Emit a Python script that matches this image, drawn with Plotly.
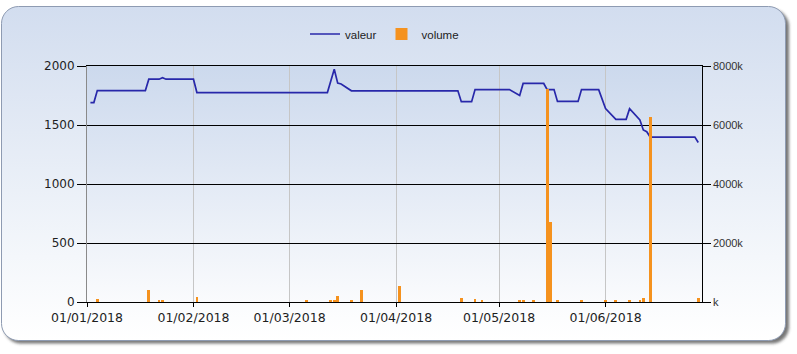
import base64
import plotly.graph_objects as go

# ---- data ----
line_dates = ["2018-01-02", "2018-01-03", "2018-01-04", "2018-01-18", "2018-01-19",
              "2018-01-22", "2018-01-23", "2018-01-24", "2018-02-01", "2018-02-02",
              "2018-03-12", "2018-03-14", "2018-03-15", "2018-03-16", "2018-03-19",
              "2018-04-19", "2018-04-20", "2018-04-23", "2018-04-24", "2018-05-04",
              "2018-05-07", "2018-05-08", "2018-05-14", "2018-05-15", "2018-05-17",
              "2018-05-18", "2018-05-24", "2018-05-25", "2018-05-30", "2018-06-01",
              "2018-06-04", "2018-06-07", "2018-06-08", "2018-06-11", "2018-06-12",
              "2018-06-13", "2018-06-14", "2018-06-27", "2018-06-28"]
line_values = [1690, 1690, 1792, 1792, 1888,
               1888, 1901, 1888, 1888, 1775,
               1775, 1972, 1855, 1848, 1790,
               1790, 1698, 1698, 1800, 1800,
               1750, 1852, 1852, 1800, 1800,
               1700, 1700, 1800, 1800, 1640,
               1548, 1548, 1638, 1542, 1458,
               1443, 1398, 1398, 1352]

bar_dates = ["2018-01-04", "2018-01-19", "2018-01-22", "2018-01-23", "2018-02-02",
             "2018-03-06", "2018-03-13", "2018-03-14", "2018-03-15", "2018-03-19",
             "2018-03-22", "2018-04-02", "2018-04-20", "2018-04-24", "2018-04-26",
             "2018-05-07", "2018-05-08", "2018-05-11", "2018-05-15", "2018-05-16",
             "2018-05-18", "2018-05-25", "2018-06-01", "2018-06-04", "2018-06-08",
             "2018-06-11", "2018-06-12", "2018-06-14", "2018-06-28"]
bar_volumes_k = [90, 420, 80, 80, 160,
                 70, 80, 80, 190, 80,
                 420, 530, 150, 90, 80,
                 80, 80, 70, 7210, 2720,
                 70, 60, 60, 80, 80,
                 80, 140, 6280, 150]

month_ticks = ["2018-01-01", "2018-02-01", "2018-03-01", "2018-04-01", "2018-05-01", "2018-06-01"]
left_ticks = [0, 500, 1000, 1500, 2000]
right_ticks = [0, 2000, 4000, 6000, 8000]
right_tick_text = ["k", "2000k", "4000k", "6000k", "8000k"]

W, H = 797, 354
PL, PR, PT, PB = 87, 701.7, 66, 302

# ---- background panel (rounded, gradient, shadow) as an svg image ----
svg = f'''<svg xmlns="http://www.w3.org/2000/svg" width="{W}" height="{H}" viewBox="0 0 {W} {H}">
<defs>
<linearGradient id="pg" x1="0" y1="0" x2="0" y2="1">
<stop offset="0" stop-color="#d2ddef"/><stop offset="0.75" stop-color="#f4f7fb"/><stop offset="1" stop-color="#ffffff"/>
</linearGradient>
<linearGradient id="ag" x1="0" y1="0" x2="0" y2="1">
<stop offset="0" stop-color="#ccd9ed"/><stop offset="1" stop-color="#fafbfd"/>
</linearGradient>
<filter id="sh" x="-5%" y="-5%" width="110%" height="120%"><feGaussianBlur stdDeviation="1.8"/></filter>
</defs>
<rect width="{W}" height="{H}" fill="#ffffff"/>
<rect x="4" y="9.5" width="785" height="334" rx="17" fill="#4a4a4a" opacity="0.75" filter="url(#sh)"/>
<rect x="1.5" y="6.5" width="784" height="334" rx="17" fill="url(#pg)" stroke="#8e9bb2" stroke-width="1"/>
<rect x="{PL}" y="{PT}" width="{PR-PL}" height="{PB-PT}" fill="url(#ag)"/>
</svg>'''
src = "data:image/svg+xml;base64," + base64.b64encode(svg.encode()).decode()

fig = go.Figure()
fig.add_trace(go.Scatter(
    x=line_dates, y=line_values, name="valeur", mode="lines",
    line=dict(color="#2828aa", width=1.7), yaxis="y"))
fig.add_trace(go.Bar(
    x=bar_dates, y=bar_volumes_k, name="volume", marker=dict(color="#f5921e", line_width=0),
    width=0.8 * 86400000, yaxis="y2"))

fig.update_layout(
    width=W, height=H,
    margin=dict(l=0, r=0, t=0, b=0, autoexpand=False),
    paper_bgcolor="#ffffff", plot_bgcolor="rgba(0,0,0,0)",
    images=[dict(source=src, xref="paper", yref="paper", x=0, y=1, sizex=1, sizey=1,
                 xanchor="left", yanchor="top", sizing="stretch", layer="below")],
    showlegend=True,
    legend=dict(orientation="h", x=305 / W, xanchor="left", y=1 - 34 / H, yanchor="middle",
                bgcolor="rgba(0,0,0,0)", font=dict(family="Liberation Sans, Arial", size=11.5, color="#222222"),
                itemwidth=30, traceorder="normal"),
    xaxis=dict(type="date", domain=[PL / W, PR / W], range=["2018-01-01", "2018-06-29"],
               tickvals=month_ticks, tickformat="%d/%m/%Y",
               showgrid=True, gridcolor="#c6c6c6", gridwidth=1,
               ticks="outside", ticklen=4, tickcolor="#000000",
               showline=True, linecolor="#000000", linewidth=1, mirror=True,
               tickfont=dict(family="DejaVu Sans", size=12.5, color="#1e1e1e"),
               zeroline=False, fixedrange=True),
    yaxis=dict(domain=[1 - PB / H, 1 - PT / H], range=[0, 2000], tickvals=left_ticks,
               showgrid=True, gridcolor="#000000", gridwidth=1,
               ticks="outside", ticklen=9, tickcolor="#000000",
               showline=True, linecolor="#8a8a8a", linewidth=1,
               tickfont=dict(family="DejaVu Sans", size=12, color="#1e1e1e"),
               zeroline=False, fixedrange=True),
    yaxis2=dict(overlaying="y", side="right", anchor="x", range=[0, 8000],
                tickvals=right_ticks, ticktext=right_tick_text,
                showgrid=False, ticks="outside", ticklen=8, tickcolor="#000000",
                showline=True, linecolor="#000000", linewidth=1,
                tickfont=dict(family="Liberation Sans, Arial", size=11, color="#333333"),
                zeroline=False, fixedrange=True),
    bargap=0,
)

fig.write_html("out.html")
